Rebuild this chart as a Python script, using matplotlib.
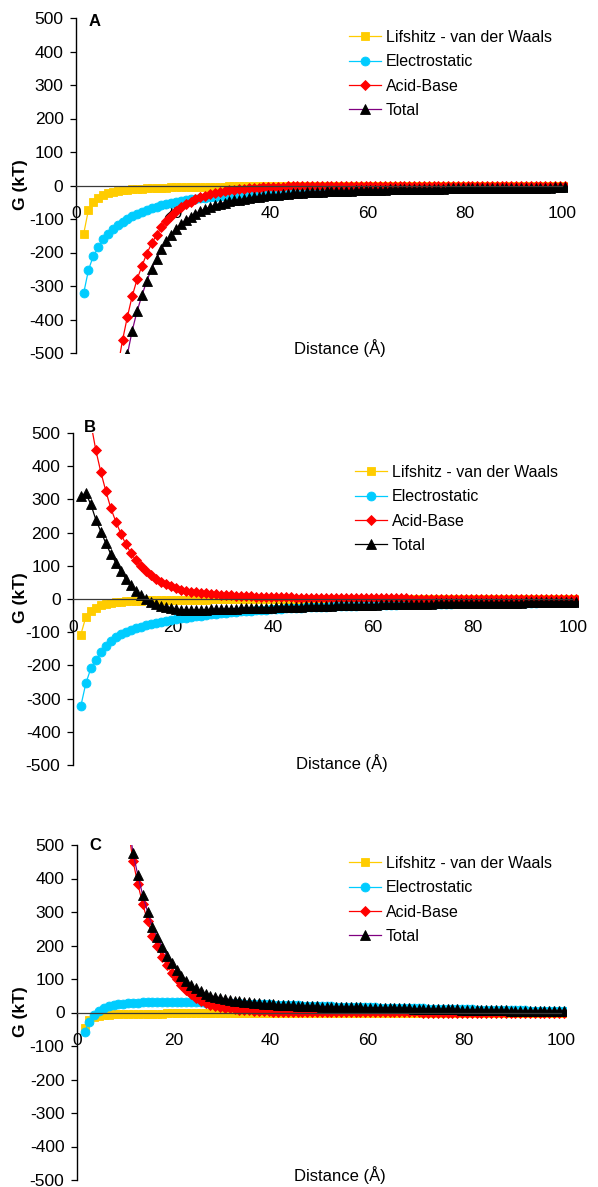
import numpy as np
import matplotlib
matplotlib.use("Agg")
import matplotlib.pyplot as plt

plt.rcParams['font.family'] = ['Liberation Sans', 'DejaVu Sans']

# Separation distance (Angstrom), one point per Angstrom
distance = np.round(1.57 + np.arange(100), 2)

# ---------------- Panel A ----------------
lw_a = np.array([
    -145, -72, -50, -38, -29, -23, -19, -16, -14, -12,
    -11, -10, -9, -8.2, -7.6, -7, -6.5, -6, -5.6, -5.2,
    -4.9, -4.6, -4.3, -4.1, -3.9, -3.7, -3.5, -3.3, -3.2, -3.0,
    -2.9, -2.8, -2.7, -2.6, -2.5, -2.4, -2.3, -2.3, -2.2, -2.1,
    -2.1, -2.0, -2.0, -1.9, -1.9, -1.8, -1.8, -1.7, -1.7, -1.6,
    -1.6, -1.6, -1.5, -1.5, -1.5, -1.4, -1.4, -1.4, -1.3, -1.3,
    -1.3, -1.3, -1.2, -1.2, -1.2, -1.2, -1.1, -1.1, -1.1, -1.1,
    -1.1, -1.0, -1.0, -1.0, -1.0, -1.0, -1.0, -0.9, -0.9, -0.9,
    -0.9, -0.9, -0.9, -0.9, -0.8, -0.8, -0.8, -0.8, -0.8, -0.8,
    -0.8, -0.8, -0.7, -0.7, -0.7, -0.7, -0.7, -0.7, -0.7, -0.7])
el_a = np.array([
    -322, -252, -210, -185, -161, -145, -131, -119, -109, -100,
    -92, -85, -79, -73, -68, -63, -59, -55, -51, -48,
    -45, -43, -41, -39, -37.5, -36, -34.5, -33.2, -32, -31,
    -30, -29, -28, -27, -26, -25, -24.2, -23.4, -22.6, -21.9,
    -21.2, -20.5, -19.8, -19.2, -18.6, -18, -17.4, -16.9, -16.4, -15.9,
    -15.4, -14.9, -14.4, -14, -13.6, -13.2, -12.8, -12.4, -12, -11.7,
    -11.4, -11.1, -10.8, -10.5, -10.2, -9.9, -9.6, -9.4, -9.2, -9,
    -8.8, -8.6, -8.4, -8.2, -8, -7.8, -7.6, -7.4, -7.2, -7,
    -6.9, -6.8, -6.7, -6.6, -6.5, -6.4, -6.3, -6.2, -6.1, -6,
    -5.9, -5.8, -5.7, -5.6, -5.5, -5.4, -5.3, -5.2, -5.1, -5])
ab_a = np.array([
    -1697, -1442, -1226, -1042, -886, -753, -640, -544, -462, -392,
    -330, -280, -240, -203, -173, -148, -125, -106, -90, -77,
    -65, -56, -48, -41, -35, -30, -26, -22.5, -19.5, -17,
    -14.8, -12.9, -11.2, -9.8, -8.5, -7.4, -6.4, -5.6, -4.9, -4.2,
    -3.7, -3.2, -2.8, -2.4, -2.1, -1.8, -1.6, -1.4, -1.2, -1.0,
    -0.9, -0.8, -0.7, -0.6, -0.5, -0.45, -0.4, -0.35, -0.3, -0.25,
    -0.2, -0.2, -0.2, -0.15, -0.15, -0.15, -0.1, -0.1, -0.1, -0.1,
    -0.1, -0.1, -0.1, -0.1, -0.1, 0, 0, 0, 0, 0,
    0, 0, 0, 0, 0, 0, 0, 0, 0, 0,
    0, 0, 0, 0, 0, 0, 0, 0, 0, 0])

# ---------------- Panel B ----------------
lw_b = np.array([
    -107, -54, -36, -26, -19, -15, -12, -10, -8.5, -7.3,
    -6.3, -5.5, -4.9, -4.4, -3.9, -3.5, -3.2, -2.9, -2.6, -2.4,
    -2.2, -2.0, -1.9, -1.8, -1.7, -1.6, -1.5, -1.4, -1.3, -1.25,
    -1.2, -1.15, -1.1, -1.05, -1.0, -0.95, -0.9, -0.9, -0.85, -0.8,
    -0.8, -0.75, -0.75, -0.7, -0.7, -0.7, -0.65, -0.65, -0.6, -0.6,
    -0.6, -0.6, -0.55, -0.55, -0.55, -0.5, -0.5, -0.5, -0.5, -0.5,
    -0.45, -0.45, -0.45, -0.45, -0.45, -0.45, -0.45, -0.45, -0.45, -0.45,
    -0.4, -0.4, -0.4, -0.4, -0.4, -0.4, -0.4, -0.4, -0.4, -0.4,
    -0.4, -0.4, -0.4, -0.4, -0.4, -0.35, -0.35, -0.35, -0.35, -0.35,
    -0.35, -0.35, -0.35, -0.35, -0.35, -0.35, -0.35, -0.35, -0.35, -0.35])
el_b = np.array([
    -322, -254, -209, -183, -160, -142, -126, -114, -105, -98,
    -92, -87, -83, -79, -75, -72, -69, -66, -63, -61,
    -58, -56, -54, -52, -50, -48, -46, -44.5, -43, -41.5,
    -40, -38.5, -37, -36, -35, -34, -33, -32, -31, -30,
    -29, -28, -27.3, -26.6, -25.9, -25.2, -24.5, -23.9, -23.3, -22.7,
    -22.1, -21.6, -21.1, -20.6, -20.1, -19.6, -19.2, -18.8, -18.4, -18,
    -17.6, -17.2, -16.9, -16.6, -16.3, -16, -15.7, -15.4, -15.1, -14.8,
    -14.5, -14.3, -14.1, -13.8, -13.6, -13.4, -13.2, -13, -12.8, -12.6,
    -12.4, -12.2, -12, -11.8, -11.7, -11.5, -11.3, -11.2, -11, -10.9,
    -10.7, -10.6, -10.4, -10.3, -10.2, -10, -9.9, -9.8, -9.7, -9.6])
ab_b = np.array([
    740, 626, 530, 448, 382, 325, 273, 233, 197, 165,
    139, 117, 99, 84, 71, 60, 51, 44, 38, 33,
    28, 25, 22.5, 20.5, 19, 17.5, 16, 14.5, 13.3, 12.2,
    11.2, 10.3, 9.5, 8.8, 8.1, 7.5, 7.0, 6.5, 6.0, 5.6,
    5.2, 4.9, 4.6, 4.3, 4.0, 3.8, 3.6, 3.4, 3.2, 3.0,
    2.9, 2.7, 2.6, 2.5, 2.4, 2.3, 2.2, 2.1, 2.0, 1.9,
    1.8, 1.8, 1.7, 1.7, 1.6, 1.6, 1.5, 1.5, 1.4, 1.4,
    1.3, 1.3, 1.3, 1.2, 1.2, 1.2, 1.1, 1.1, 1.1, 1.0,
    1.0, 1.0, 1.0, 0.9, 0.9, 0.9, 0.9, 0.9, 0.8, 0.8,
    0.8, 0.8, 0.8, 0.8, 0.7, 0.7, 0.7, 0.7, 0.7, 0.7])

# ---------------- Panel C ----------------
lw_c = np.array([
    -47, -22, -13, -9.5, -7.5, -6.3, -5.5, -5.0, -4.6, -4.3,
    -4.0, -3.8, -3.6, -3.4, -3.2, -3.1, -3.0, -2.9, -2.8, -2.7,
    -2.6, -2.5, -2.45, -2.4, -2.35, -2.3, -2.25, -2.2, -2.15, -2.1,
    -2.05, -2.0, -2.0, -1.95, -1.9, -1.9, -1.85, -1.8, -1.8, -1.75,
    -1.7, -1.7, -1.65, -1.65, -1.6, -1.6, -1.55, -1.55, -1.5, -1.5,
    -1.45, -1.45, -1.4, -1.4, -1.4, -1.35, -1.35, -1.3, -1.3, -1.3,
    -1.25, -1.25, -1.2, -1.2, -1.2, -1.15, -1.15, -1.15, -1.1, -1.1,
    -1.1, -1.05, -1.05, -1.05, -1.0, -1.0, -1.0, -1.0, -0.95, -0.95,
    -0.95, -0.95, -0.9, -0.9, -0.9, -0.9, -0.9, -0.85, -0.85, -0.85,
    -0.85, -0.85, -0.8, -0.8, -0.8, -0.8, -0.8, -0.8, -0.75, -0.75])
el_c = np.array([
    -57, -27, -8, 5, 13, 18.5, 22.5, 25, 26.8, 28,
    29, 29.7, 30.2, 30.6, 30.9, 31.1, 31.2, 31.2, 31.2, 31.1,
    31, 30.8, 30.6, 30.4, 30.1, 29.8, 29.5, 29.1, 28.7, 28.3,
    27.9, 27.4, 26.9, 26.4, 25.9, 25.4, 24.9, 24.4, 23.9, 23.4,
    22.9, 22.4, 21.9, 21.4, 20.9, 20.4, 20, 19.6, 19.2, 18.8,
    18.4, 18, 17.6, 17.3, 17, 16.7, 16.4, 16.1, 15.8, 15.5,
    15.2, 14.9, 14.6, 14.3, 14, 13.7, 13.4, 13.1, 12.8, 12.5,
    12.2, 11.9, 11.6, 11.3, 11, 10.7, 10.4, 10.1, 9.8, 9.5,
    9.2, 8.9, 8.6, 8.3, 8, 7.7, 7.4, 7.1, 6.8, 6.5,
    6.3, 6.1, 5.9, 5.7, 5.5, 5.3, 5.1, 4.9, 4.7, 4.5])
ab_c = np.array([
    2475, 2094, 1772, 1499, 1268, 1073, 908, 768, 650, 550,
    452, 384, 324, 274, 229, 198, 167, 141, 119, 99,
    82, 67, 54.5, 44.5, 35, 28, 23, 20, 17, 14.5,
    12.3, 10.4, 8.8, 7.5, 6.3, 5.3, 4.5, 3.8, 3.2, 2.7,
    2.3, 2.0, 1.7, 1.4, 1.2, 1.0, 0.85, 0.7, 0.6, 0.5,
    0.45, 0.4, 0.35, 0.3, 0.25, 0.2, 0.2, 0.15, 0.15, 0.1,
    0.1, 0.1, 0.1, 0.1, 0.1, 0.1, 0.1, 0.1, 0.1, 0.1,
    0, 0, 0, 0, 0, 0, 0, 0, 0, 0,
    0, 0, 0, 0, 0, 0, 0, 0, 0, 0,
    0, 0, 0, 0, 0, 0, 0, 0, 0, 0])

# Total interaction energy is the sum of the three components
total_a = lw_a + el_a + ab_a
total_b = lw_b + el_b + ab_b
total_c = lw_c + el_c + ab_c

series_labels = ["Lifshitz - van der Waals", "Electrostatic", "Acid-Base", "Total"]
marker_colors = ["#FFCC00", "#00CCFF", "#FF0000", "#000000"]
markers = ["s", "o", "D", "^"]
marker_sizes = [6.2, 6.4, 5.0, 6.8]
y_ticks = [-500, -400, -300, -200, -100, 0, 100, 200, 300, 400, 500]
x_ticks = [0, 20, 40, 60, 80, 100]

W, H = 598, 1187
fig = plt.figure(figsize=(W / 100, H / 100), dpi=100)


def px_axes(x0, x100, y_top, y_bot):
    """Axes whose x range 0..101 and y range -500..500 sit at the given pixel spots."""
    unit = (x100 - x0) / 100.0
    width = unit * 101
    return fig.add_axes([x0 / W, 1 - y_bot / H, width / W, (y_bot - y_top) / H])


panels = [
    dict(letter="A", data=(lw_a, el_a, ab_a, total_a), total_line="#800080",
         box=(76, 562, 18, 353), letter_xy=(95, 22), xlabel_xy=(340, 348),
         ylabel_y=185, legend_xy=(349, 30)),
    dict(letter="B", data=(lw_b, el_b, ab_b, total_b), total_line="#000000",
         box=(73, 573, 433, 765), letter_xy=(90, 427), xlabel_xy=(342, 763),
         ylabel_y=598, legend_xy=(355, 465)),
    dict(letter="C", data=(lw_c, el_c, ab_c, total_c), total_line="#800080",
         box=(77, 561, 845, 1180), letter_xy=(95, 846), xlabel_xy=(340, 1175),
         ylabel_y=1012, legend_xy=(349, 856)),
]

for p in panels:
    ax = px_axes(*p["box"])
    ax.set_xlim(0, 101)
    ax.set_ylim(-500, 500)
    line_colors = [marker_colors[0], marker_colors[1], marker_colors[2], p["total_line"]]
    handles = []
    for vals, lab, mc, lc, mk, ms in zip(p["data"], series_labels, marker_colors,
                                          line_colors, markers, marker_sizes):
        h, = ax.plot(distance, vals, color=lc, lw=0.9, marker=mk, ms=ms,
                     mfc=mc, mec=mc, mew=0.6, label=lab)
        handles.append(h)

    # x axis drawn through G = 0
    ax.spines["bottom"].set_position(("data", 0))
    ax.spines["bottom"].set_bounds(0, 100)
    ax.spines["bottom"].set_color("#3a3a3a")
    ax.spines["bottom"].set_linewidth(0.9)
    ax.spines["top"].set_visible(False)
    ax.spines["right"].set_visible(False)
    ax.spines["left"].set_color("black")
    ax.spines["left"].set_linewidth(1.0)
    ax.set_axisbelow(True)

    ax.set_xticks(x_ticks)
    ax.set_yticks(y_ticks)
    ax.set_xticklabels([str(v) for v in x_ticks])
    ax.set_yticklabels([str(v) for v in y_ticks])
    ax.tick_params(axis="x", direction="out", length=3, width=0.8, pad=12,
                   labelsize=12.5, colors="#3a3a3a", labelcolor="black")
    ax.tick_params(axis="y", direction="out", length=4, width=0.9, pad=5,
                   labelsize=12.5, colors="black")

    fig.text(20 / W, 1 - p["ylabel_y"] / H, "G (kT)", rotation=90,
             fontsize=12.5, fontweight="bold", ha="center", va="center")
    fig.text(p["letter_xy"][0] / W, 1 - p["letter_xy"][1] / H, p["letter"],
             fontsize=12, fontweight="bold", ha="center", va="center")
    fig.text(p["xlabel_xy"][0] / W, 1 - p["xlabel_xy"][1] / H, "Distance (Å)",
             fontsize=12, ha="center", va="center")

    ax.legend(handles=handles, loc="upper left",
              bbox_to_anchor=(p["legend_xy"][0] / W, 1 - p["legend_xy"][1] / H),
              bbox_transform=fig.transFigure, frameon=False, fontsize=11.5,
              handlelength=2.0, handletextpad=0.3, labelspacing=0.58,
              borderpad=0, borderaxespad=0)

fig.savefig("out.png", dpi=100)
